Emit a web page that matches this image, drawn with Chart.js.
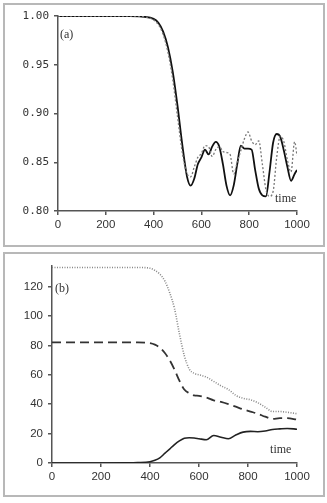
<!DOCTYPE html>
<html>
<head>
<meta charset="utf-8">
<script src="https://cdn.jsdelivr.net/npm/chart.js@4.4.0/dist/chart.umd.min.js"></script>
<style>
  body { margin: 0; background: #fff; width: 327px; height: 503px; position: relative; overflow: hidden; }
  .frame { position: absolute; left: 3px; width: 322px; border: 2px solid #b8b8b8; box-sizing: border-box; }
  .box { position: absolute; }
</style>
</head>
<body>
<div class="frame" style="top:3px;height:244px"></div>
<div class="frame" style="top:252px;height:245px"></div>
<div class="box" style="left:4px;top:4px;width:319px;height:240px"><canvas id="chartA"></canvas></div>
<div class="box" style="left:4px;top:254px;width:320px;height:242px"><canvas id="chartB"></canvas></div>
<script>
// panel (a)
const timeA = [0, 100, 200, 300, 350, 400, 420, 440, 460, 480, 500, 520, 540, 555, 570, 585, 600, 615, 630, 645, 660, 675, 690, 705, 720, 735, 750, 765, 780, 795, 810, 825, 840, 855, 870, 885, 900, 915, 930, 945, 960, 975, 990, 1000];
const solidA = [1, 1, 1, 1, 0.9995, 0.997, 0.993, 0.984, 0.968, 0.943, 0.908, 0.868, 0.835, 0.826, 0.833, 0.848, 0.855, 0.863, 0.858, 0.866, 0.871, 0.866, 0.848, 0.826, 0.816, 0.826, 0.848, 0.867, 0.864, 0.864, 0.863, 0.842, 0.823, 0.816, 0.815, 0.84, 0.87, 0.879, 0.876, 0.862, 0.845, 0.831, 0.838, 0.842];
const dottedA = [1, 1, 1, 1, 0.9995, 0.996, 0.991, 0.981, 0.963, 0.935, 0.897, 0.86, 0.838, 0.835, 0.845, 0.855, 0.859, 0.867, 0.866, 0.856, 0.863, 0.866, 0.861, 0.86, 0.858, 0.838, 0.85, 0.862, 0.874, 0.881, 0.872, 0.868, 0.872, 0.848, 0.822, 0.815, 0.82, 0.855, 0.877, 0.871, 0.852, 0.84, 0.871, 0.857];
const yTicksA = [0.80, 0.85, 0.90, 0.95, 1.00];
const xTicks = [0, 200, 400, 600, 800, 1000];

// panel (b)
const timeB = [0, 100, 200, 300, 350, 400, 420, 440, 460, 480, 500, 520, 540, 560, 580, 600, 630, 660, 690, 720, 750, 780, 810, 840, 870, 900, 930, 960, 1000];
const topB = [133, 133, 133, 133, 133, 132.5, 131, 128.5, 124, 116, 105, 88, 73, 64, 61, 60, 58.5, 55.5, 52.5, 50, 46, 44, 43, 41, 38, 35, 35, 34.5, 33.5];
const dashB = [82, 82, 82, 82, 82, 81.5, 80.5, 78.5, 75, 70, 63.5, 56, 50, 47.5, 46, 45.7, 44.5, 42.6, 41.5, 40, 38.3, 36.5, 35, 33.5, 31.5, 30, 30.5, 30.5, 29.5];
const solidB = [0, 0, 0, 0.1, 0.3, 0.9, 1.8, 3.5, 6.5, 9.5, 12.5, 15, 16.8, 17.2, 17, 16.5, 15.8, 18.7, 17.5, 16.5, 19, 21, 21.5, 21.3, 21.8, 22.8, 23.2, 23.5, 23];
const yTicksB = [0, 20, 40, 60, 80, 100, 120];

const pts = (xs, ys) => xs.map((x, i) => ({ x: x, y: ys[i] }));

const panelText = {
  id: 'panelText',
  afterDatasetsDraw(chart, args, opts) {
    const ctx = chart.ctx, xs = chart.scales.x, ys = chart.scales.y;
    ctx.save();
    ctx.font = '12px "Liberation Serif"';
    ctx.fillStyle = '#333';
    ctx.textBaseline = 'middle';
    opts.items.forEach(it => ctx.fillText(it.text, xs.getPixelForValue(it.x), ys.getPixelForValue(it.y)));
    ctx.restore();
  }
};

function axes(yMin, yMax, yTicks, yWidth, yFont, yFmt) {
  return {
    x: {
      type: 'linear', min: 0, max: 1000,
      afterBuildTicks: s => { s.ticks = xTicks.map(v => ({ value: v })); },
      afterFit: s => { s.height = 33; },
      grid: { drawOnChartArea: false, drawTicks: true, tickLength: 4, color: '#555', lineWidth: 1.5 },
      border: { color: '#555', width: 1.5 },
      ticks: { color: '#333', padding: 3, font: { family: 'Liberation Sans', size: 11.5 }, callback: v => String(v) }
    },
    y: {
      min: yMin, max: yMax,
      afterBuildTicks: s => { s.ticks = yTicks.map(v => ({ value: v })); },
      afterFit: s => { s.width = yWidth; },
      grid: { drawOnChartArea: false, drawTicks: true, tickLength: 4, color: '#555', lineWidth: 1.5 },
      border: { color: '#555', width: 1.5 },
      ticks: { color: '#333', padding: 5, font: yFont, callback: yFmt }
    }
  };
}

new Chart(document.getElementById('chartA'), {
  type: 'line',
  data: {
    datasets: [
      { data: pts(timeA, dottedA), borderColor: '#777', borderWidth: 1.3, borderDash: [2, 2], pointRadius: 0, cubicInterpolationMode: 'monotone' },
      { data: pts(timeA, solidA), borderColor: '#111', borderWidth: 1.8, pointRadius: 0, cubicInterpolationMode: 'monotone' }
    ]
  },
  options: {
    animation: false, responsive: true, maintainAspectRatio: false,
    layout: { padding: { top: 12, right: 26, left: 0, bottom: 0 } },
    plugins: {
      legend: { display: false }, tooltip: { enabled: false },
      panelText: { items: [{ text: '(a)', x: 8, y: 0.9806 }, { text: 'time', x: 908, y: 0.8122 }] }
    },
    scales: axes(0.8, 1.0, yTicksA, 54, { family: 'DejaVu Sans Mono', size: 11 }, v => v.toFixed(2))
  },
  plugins: [panelText]
});

new Chart(document.getElementById('chartB'), {
  type: 'line',
  data: {
    datasets: [
      { data: pts(timeB, topB), borderColor: '#888', borderWidth: 1.6, borderDash: [1, 1.5], pointRadius: 0, cubicInterpolationMode: 'monotone' },
      { data: pts(timeB, dashB), borderColor: '#333', borderWidth: 1.8, borderDash: [9, 5], pointRadius: 0, cubicInterpolationMode: 'monotone' },
      { data: pts(timeB, solidB), borderColor: '#222', borderWidth: 1.6, pointRadius: 0, cubicInterpolationMode: 'monotone' }
    ]
  },
  options: {
    animation: false, responsive: true, maintainAspectRatio: false,
    layout: { padding: { top: 12, right: 27, left: 0, bottom: 0 } },
    plugins: {
      legend: { display: false }, tooltip: { enabled: false },
      panelText: { items: [{ text: '(b)', x: 12, y: 118.6 }, { text: 'time', x: 890, y: 8.9 }] }
    },
    scales: axes(0, 134, yTicksB, 48, { family: 'Liberation Sans', size: 11.5 }, v => String(v))
  },
  plugins: [panelText]
});
</script>
</body>
</html>
